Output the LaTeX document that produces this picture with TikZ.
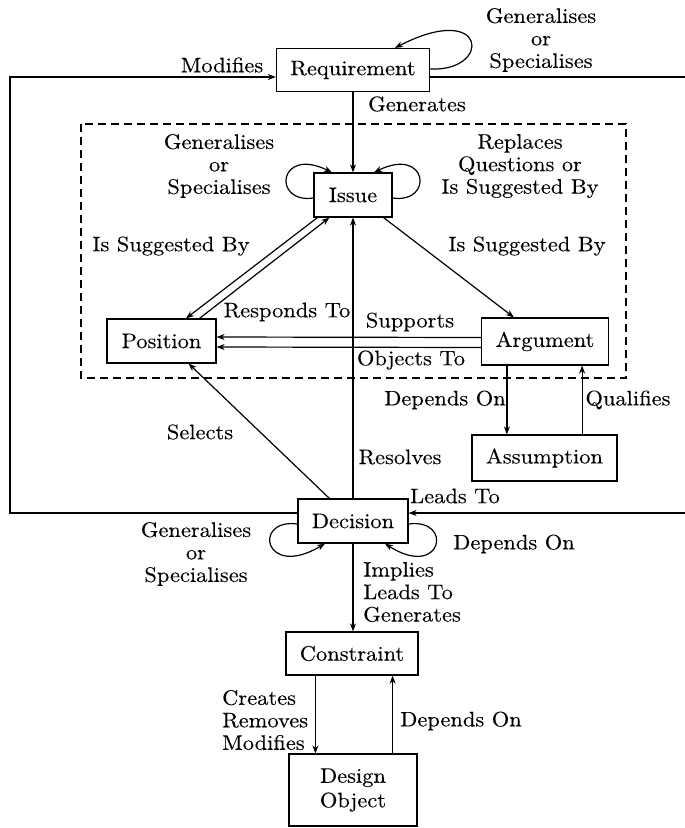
\documentclass[tikz,border=0pt]{standalone}
\usepackage{fontspec}
\setmainfont{lmroman10-regular}[Extension=.otf, FakeStretch=1.07, FakeBold=0.15]
\usetikzlibrary{arrows.meta}
\begin{document}
\begin{tikzpicture}[x=1pt,y=-1pt,
  every node/.style={font=\fontsize{21}{22.5}\selectfont, inner sep=0pt},
  box/.style={draw, line width=1.2pt, align=center},
  lbl/.style={align=center},
  link/.style={line width=1.2pt},
  arr/.style={link, -{Stealth[length=8pt,width=6pt,inset=2.5pt]}},
  frame/.style={line width=1.2pt, dash pattern=on 8pt off 5pt}]
\useasboundingbox (0,0) rectangle (685,828);
\clip (0,0) rectangle (685,828);

% boxes
\node[box, minimum width=153pt, minimum height=43pt] (req)   at (353,70)    {Requirement};
\node[box, minimum width=78pt,  minimum height=44pt] (issue) at (353,195)   {Issue};
\node[box, minimum width=109pt, minimum height=44pt] (pos)   at (161.5,341) {Position};
\node[box, minimum width=127pt, minimum height=47pt] (arg)   at (545,341.5) {Argument};
\node[box, minimum width=145pt, minimum height=46pt] (assum) at (544.5,458) {Assumption};
\node[box, minimum width=110pt, minimum height=44pt] (dec)   at (353,521)   {Decision};
\node[box, minimum width=132pt, minimum height=43pt] (cons)  at (352,653.5) {Constraint};
\node[box, minimum width=128pt, minimum height=72pt] (dobj)  at (353,790)   {Design\\[2pt]Object};

% IBIS region
\draw[frame] (81,124) rectangle (626,378);

% outer feedback loops
\coordinate (lc) at (10,513);
\coordinate (rc1) at (700,77);
\coordinate (rc2) at (700,513);
\draw[arr] ([yshift=8pt]dec.west) -- (lc) |- ([yshift=-7pt]req.west);
\draw[arr] ([yshift=-7pt]req.east) -- (rc1) -- (rc2) -- ([yshift=8pt]dec.east);

% self loops
\draw[arr] ([yshift=1pt]req.east) .. controls (492,72) and (488,0) .. ([xshift=42pt]req.north);
\draw[arr] ([yshift=-3pt]issue.west) .. controls (272,204) and (278,146) .. ([xshift=-21pt]issue.north);
\draw[arr] ([yshift=-3pt]issue.east) .. controls (434,204) and (428,146) .. ([xshift=21pt]issue.north);
\draw[arr] ([yshift=-3pt]dec.west) .. controls (252,518) and (264,580) .. ([xshift=-28pt]dec.south);
\draw[arr] ([yshift=-3pt]dec.east) .. controls (454,518) and (442,580) .. ([xshift=32pt]dec.south);

% main connectors
\draw[arr] (req.south) -- (issue.north);
\draw[arr] ([xshift=4pt]issue.south west) -- ([xshift=24.5pt]pos.north);
\draw[arr] ([xshift=38pt]pos.north) -- ([xshift=16pt]issue.south west);
\draw[arr] ([xshift=-9pt]issue.south east) -- ([xshift=33pt]arg.north west);
\draw[arr] ([yshift=4pt]arg.west) -- ([yshift=4pt]pos.east);
\draw[arr] ([yshift=-6pt]arg.west) -- ([yshift=-6pt]pos.east);
\draw[arr] (dec.north) -- (issue.south);
\draw[arr] ([xshift=32pt]dec.north west) -- ([xshift=-28pt]pos.south east);
\draw[arr] ([xshift=26pt]arg.south west) -- ([xshift=26pt]arg.south west |- assum.north);
\draw[arr] ([xshift=-27pt]arg.south east |- assum.north) -- ([xshift=-27pt]arg.south east);
\draw[arr] (dec.south) -- (dec.south |- cons.north);
\draw[arr] ([xshift=30pt]cons.south west) -- ([xshift=30pt]cons.south west |- dobj.north);
\draw[arr] ([xshift=-26pt]cons.south east |- dobj.north) -- ([xshift=-26pt]cons.south east);

% labels
\node[lbl] (lmod)  at (222,65)  {Modifies};
\node[lbl] (lrgs)  at (541,40)  {Generalises\\or\\Specialises};
\node[lbl] (lgen)  at (417,104) {Generates};
\node[lbl] (ligs)  at (219,166) {Generalises\\or\\Specialises};
\node[lbl] (lirep) at (520,166) {Replaces\\Questions or\\Is Suggested By};
\node[lbl] (lisl)  at (171,246) {Is Suggested By};
\node[lbl] (lisr)  at (527,246) {Is Suggested By};
\node[lbl] (lresp) at (287,312) {Responds To};
\node[lbl] (lsup)  at (410,322) {Supports};
\node[lbl] (lobj)  at (411,360) {Objects To};
\node[lbl] (ldep1) at (445,400) {Depends On};
\node[lbl] (lqual) at (628,400) {Qualifies};
\node[lbl] (lsel)  at (200,432) {Selects};
\node[lbl] (lres)  at (400,457) {Resolves};
\node[lbl] (llead) at (455,496) {Leads To};
\node[lbl] (ldgs)  at (196,554) {Generalises\\or\\Specialises};
\node[lbl] (ldep2) at (514,544) {Depends On};
\node[lbl, align=left, anchor=west] (limp) at (363,592) {Implies\\Leads To\\Generates};
\node[lbl, align=left, anchor=west] (lcre) at (222,720) {Creates\\Removes\\Modifies};
\node[lbl] (ldep3) at (461,721) {Depends On};
\end{tikzpicture}
\end{document}
